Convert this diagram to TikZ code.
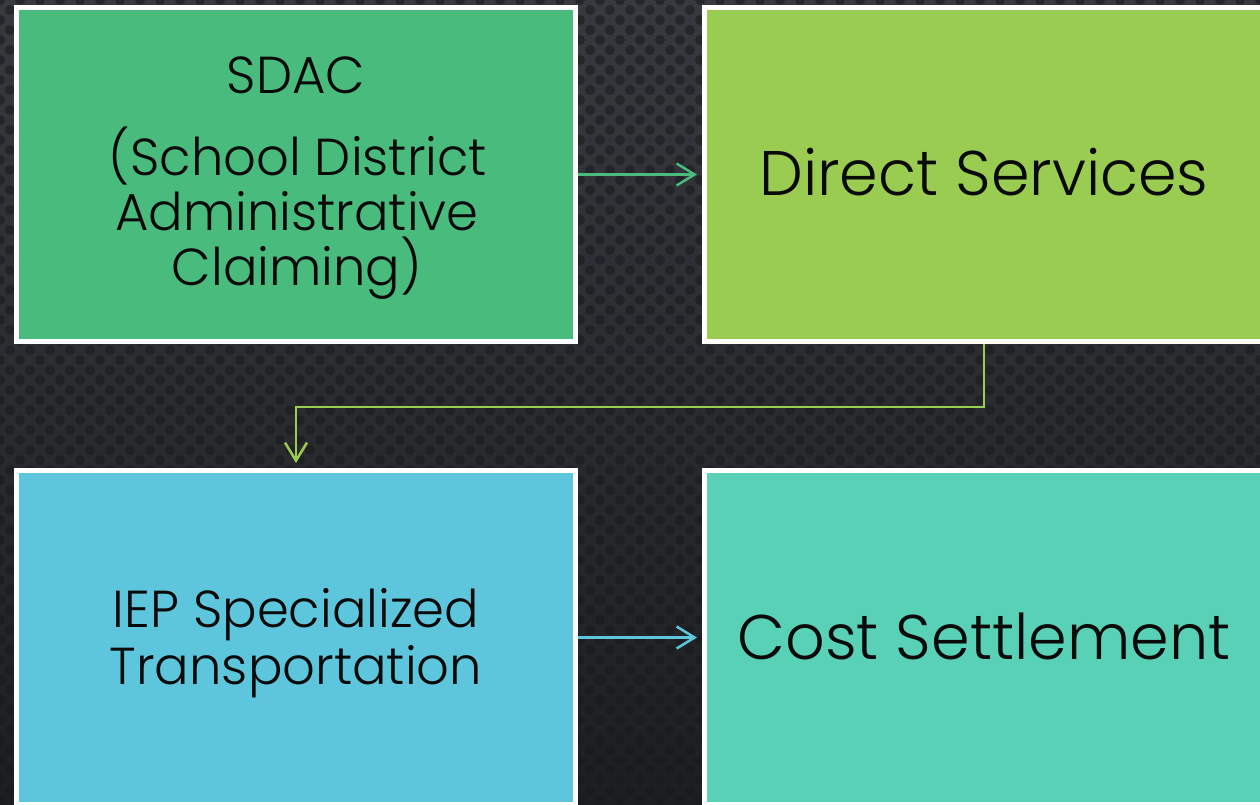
\documentclass[tikz,border=0pt]{standalone}
\usepackage{fontspec}
\setmainfont{Poppins}[UprightFont={* Light}, FakeStretch=0.985]
\usetikzlibrary{arrows.meta}
\definecolor{bgtop}{HTML}{38393E}
\definecolor{bgbot}{HTML}{1D1E21}
\definecolor{dotc}{HTML}{18191C}
\definecolor{cA}{HTML}{49BB7D}
\definecolor{cB}{HTML}{99CC50}
\definecolor{cC}{HTML}{5EC6DC}
\definecolor{cD}{HTML}{58D1B7}
\definecolor{txt}{HTML}{0A0A0A}
\begin{document}
\begin{tikzpicture}[x=1pt,y=-1pt,
  box/.style={draw=white, line width=5pt, minimum width=559pt, minimum height=334pt,
    inner sep=0pt},
  small/.style={font=\fontsize{52}{55}\selectfont, text=txt, inner sep=0pt, anchor=base},
  big/.style={font=\fontsize{63}{70}\selectfont, text=txt, inner sep=0pt, anchor=base},
  conn/.style={line width=2.5pt, shorten >=5pt,
    -{Straight Barb[length=18pt,width=22pt]}}]
\useasboundingbox (0,0) rectangle (1260,804);
\clip (0,0) rectangle (1260,804);
\shade[top color=bgtop, bottom color=bgbot] (0,0) rectangle (1260,804);
\foreach \i in {0,...,63}{
  \foreach \j in {0,...,81}{
    \fill[dotc, opacity=0.55] ({\i*20+mod(\j,2)*10},{\j*10}) circle (5pt);
  }
}
\node[box, fill=cA] (sdac) at (296,174.5) {};
\node[box, fill=cB] (direct) at (984,174.5) {};
\node[box, fill=cC] (iep) at (296,637.5) {};
\node[box, fill=cD] (cost) at (984,637.5) {};
\node[small] (sdacA) at (296,93) {SDAC};
\node[small] (sdacB) at (298,175) {(School District};
\node[small] (sdacC) at (297,230) {Administrative};
\node[small] (sdacD) at (297,285) {Claiming)};
\node[big] (directT) at (984,195) {Direct Services};
\node[small] (iepA) at (296,627) {IEP Specialized};
\node[small] (iepB) at (296,684) {Transportation};
\node[big] (costT) at (984,659) {Cost Settlement};
\draw[conn, draw=cA] (sdac.east) -- (direct.west);
\draw[conn, draw=cB] (direct.south) -- ++(0,63) -| (iep.north);
\draw[conn, draw=cC] (iep.east) -- (cost.west);
\end{tikzpicture}
\end{document}
